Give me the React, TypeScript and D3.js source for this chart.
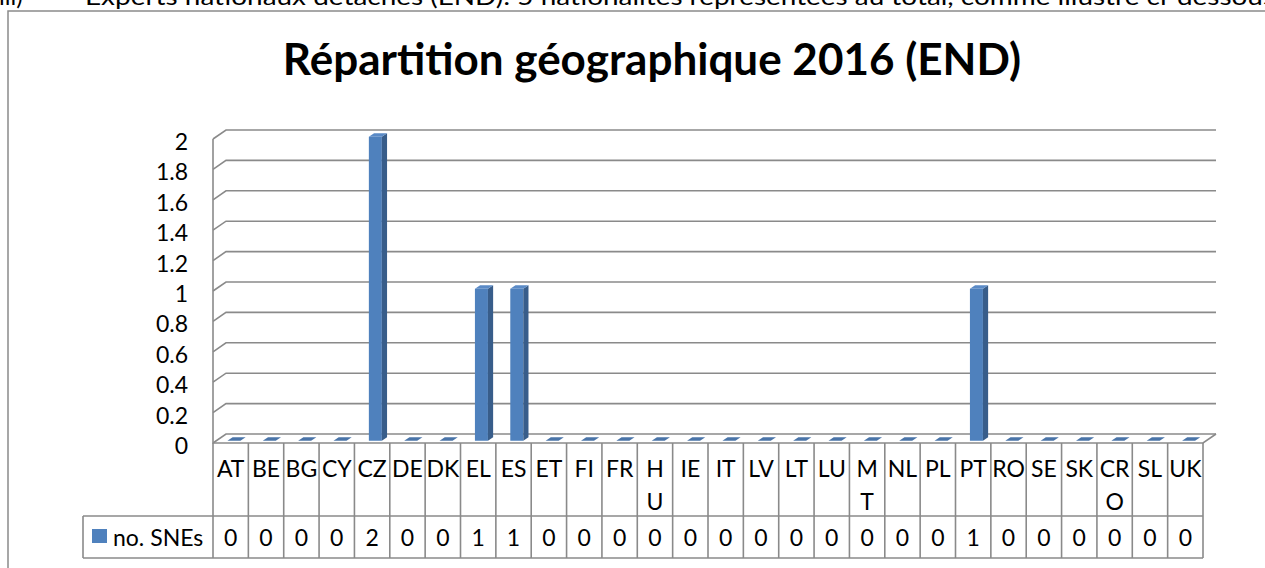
import * as React from 'react';
import * as d3 from 'd3';

const CATEGORIES = ['AT', 'BE', 'BG', 'CY', 'CZ', 'DE', 'DK', 'EL', 'ES', 'ET', 'FI', 'FR', 'HU', 'IE', 'IT', 'LV', 'LT', 'LU', 'MT', 'NL', 'PL', 'PT', 'RO', 'SE', 'SK', 'CRO', 'SL', 'UK'];
const SNES = [0, 0, 0, 0, 2, 0, 0, 1, 1, 0, 0, 0, 0, 0, 0, 0, 0, 0, 0, 0, 0, 1, 0, 0, 0, 0, 0, 0];
// labels that Excel wrapped inside the data table cells
const WRAPPED: Record<string, string[]> = { HU: ['H', 'U'], MT: ['M', 'T'], CRO: ['CR', 'O'] };
const SERIES_NAME = 'no. SNEs';
const TITLE = 'Répartition géographique 2016 (END)';
const HEADER = 'Experts nationaux détachés (END): 5 nationalités représentées au total, comme illustré ci-dessous';

const FONT = 'Lato, "Open Sans", sans-serif';
const GRID = '#8a8a8a';

export default function App() {
    const svgRef = React.useRef<SVGSVGElement>(null);

    React.useEffect(() => {
        const svg = d3.select(svgRef.current);
        svg.selectAll('*').remove();

        /** ******** Frame & header ********* */
        svg.append('text')
            .attr('x', -1).attr('y', 5)
            .attr('font-family', FONT).attr('font-size', 24)
            .text('iii)');
        svg.append('text')
            .attr('x', 85).attr('y', 5)
            .attr('font-family', FONT).attr('font-size', 24)
            .attr('textLength', 1190).attr('lengthAdjust', 'spacingAndGlyphs')
            .text(HEADER);
        svg.append('rect')
            .attr('x', 8).attr('y', 11).attr('width', 1300).attr('height', 600)
            .attr('fill', 'none').attr('stroke', GRID).attr('stroke-width', 1.5);

        svg.append('text')
            .attr('x', 652).attr('y', 75)
            .attr('text-anchor', 'middle')
            .attr('font-family', FONT).attr('font-size', 44).attr('font-weight', 'bold')
            .text(TITLE);

        /** ******** Scales ********* */
        const LEFT = 213;
        const RIGHT = 1203;
        const DX = 13; // depth offset of back wall
        const DY = 9;
        const x = d3.scaleBand<string>().domain(CATEGORIES).range([LEFT, RIGHT]).padding(0);
        const y = d3.scaleLinear().domain([0, 2]).range([443, 139]);
        const ticks = y.ticks(10);
        const fmt = d3.format('~g');

        /** ******** Walls & gridlines ********* */
        const g = svg.append('g').attr('fill', 'none').attr('stroke', GRID).attr('stroke-width', 1.6);
        ticks.forEach(t => {
            g.append('path').attr('d', `M${LEFT},${y(t)}L${LEFT + DX},${y(t) - DY}L${RIGHT + DX},${y(t) - DY}`);
        });
        g.append('path').attr('d', `M${LEFT},${y(2)}L${LEFT},${y(0)}L${RIGHT},${y(0)}L${RIGHT + DX},${y(0) - DY}`);

        svg.append('g')
            .selectAll('text')
            .data(ticks)
            .enter()
            .append('text')
            .attr('x', 188)
            .attr('y', d => y(d) + 2)
            .attr('text-anchor', 'end')
            .attr('dominant-baseline', 'central')
            .attr('font-family', FONT).attr('font-size', 23)
            .text(d => fmt(d));

        /** ******** Bars ********* */
        const bw = x.bandwidth();
        const FW = 13; // front face width
        const F1 = 0.25;
        const F2 = 0.65;
        const bars = svg.append('g');
        CATEGORIES.forEach((c, i) => {
            const v = SNES[i];
            const xl = x(c)! + (bw - FW) / 2 + F1 * DX;
            const xr = xl + FW;
            const sx = (F2 - F1) * DX;
            const yt = y(v) - F1 * DY;
            const yb = y(0) - F1 * DY;
            const sy = (F2 - F1) * DY;
            if (v > 0) {
                bars.append('rect')
                    .attr('x', xl).attr('y', yt).attr('width', FW).attr('height', yb - yt)
                    .attr('fill', '#4f81bd');
                bars.append('path')
                    .attr('d', `M${xr},${yt}L${xr + sx},${yt - sy}L${xr + sx},${yb - sy}L${xr},${yb}Z`)
                    .attr('fill', '#385d8a');
            }
            bars.append('path')
                .attr('d', `M${xl},${yt}L${xr},${yt}L${xr + sx},${yt - sy}L${xl + sx},${yt - sy}Z`)
                .attr('fill', v > 0 ? '#5a8ac6' : '#4a74a8');
        });

        /** ******** Data table ********* */
        const T0 = 443;
        const T1 = 516;
        const T2 = 558;
        const LEG = 83;
        const tg = svg.append('g').attr('fill', 'none').attr('stroke', GRID).attr('stroke-width', 1.6);
        tg.append('path').attr('d', `M${LEG},${T1}H${RIGHT}M${LEG},${T2}H${RIGHT}M${LEG},${T1}V${T2}`);
        d3.range(CATEGORIES.length + 1).forEach(i => {
            const xx = LEFT + i * bw;
            tg.append('path').attr('d', `M${xx},${T0}V${T2}`);
        });

        const labels = svg.append('g')
            .attr('font-family', FONT).attr('font-size', 23)
            .attr('text-anchor', 'middle').attr('dominant-baseline', 'central');
        CATEGORIES.forEach((c, i) => {
            const cx = x(c)! + bw / 2;
            const lines = WRAPPED[c] || [c];
            lines.forEach((ln, k) => {
                labels.append('text').attr('x', cx).attr('y', 468 + k * 33).text(ln);
            });
            labels.append('text').attr('x', cx).attr('y', (T1 + T2) / 2).text(SNES[i]);
        });

        svg.append('rect')
            .attr('x', 92).attr('y', 529).attr('width', 15).attr('height', 14)
            .attr('fill', '#4f81bd');
        svg.append('text')
            .attr('x', 113).attr('y', (T1 + T2) / 2)
            .attr('dominant-baseline', 'central')
            .attr('font-family', FONT).attr('font-size', 23)
            .text(SERIES_NAME);
    }, []);

    return (
        <svg
            ref={svgRef}
            width={1265}
            height={568}
            style={{ position: 'absolute', left: 0, top: 0, background: '#fff' }}
        />
    );
}
